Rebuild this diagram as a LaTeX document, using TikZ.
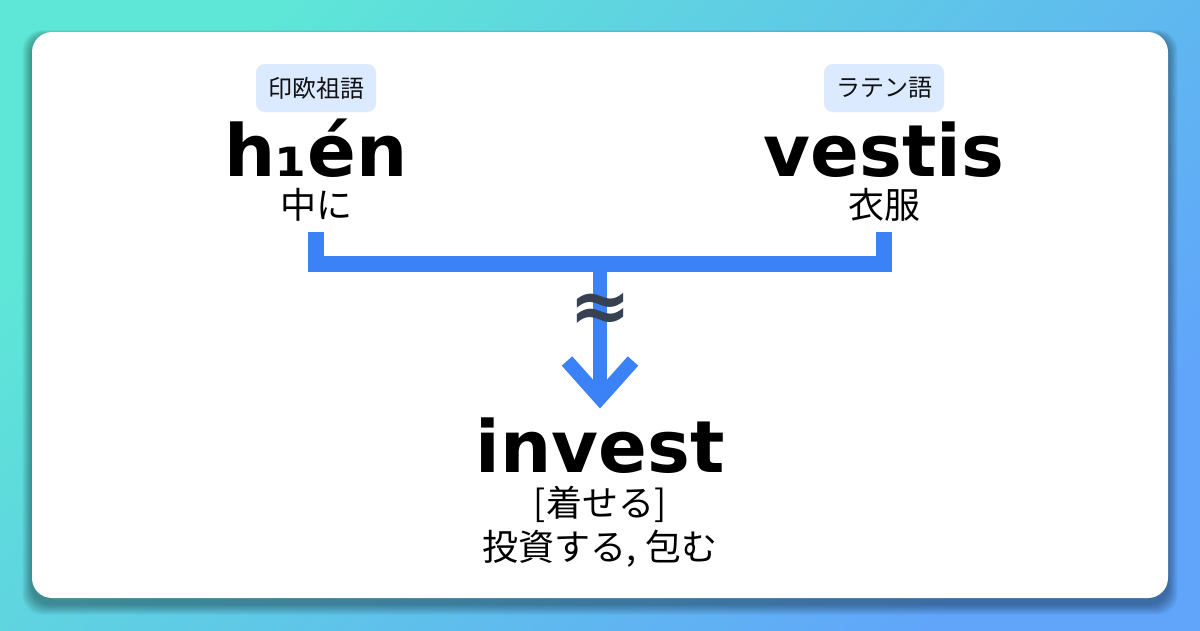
\documentclass[tikz,border=0pt]{standalone}
\usepackage{fontspec}
\setmainfont{DejaVu Sans}
\newfontfamily\jp{Noto Sans CJK JP}
\definecolor{bgA}{HTML}{5EE7D6}
\definecolor{bgB}{HTML}{60A5FA}
\definecolor{conncol}{HTML}{3B82F6}
\definecolor{pillcol}{HTML}{DBEAFE}
\definecolor{approxcol}{HTML}{374151}
\definecolor{txt}{HTML}{111111}
\tikzset{
  pill/.style={fill=pillcol, rounded corners=9pt, inner xsep=12pt, inner ysep=0pt, minimum height=48pt, text=txt, font=\jp\fontsize{24}{24}\selectfont},
  word/.style={anchor=base, inner sep=0pt, text depth=0pt, text=black, font=\bfseries\fontsize{72}{72}\selectfont},
  gloss/.style={inner sep=0pt, text height=28pt, text depth=1pt, text=black, font=\jp\fontsize{36}{36}\selectfont},
  conn/.style={draw=conncol, line width=16pt, line cap=butt, line join=miter},
  stem/.style={draw=conncol, line width=14pt, line cap=butt, line join=miter},
}
\begin{document}
\begin{tikzpicture}[x=1pt,y=-1pt]
\useasboundingbox (0,0) rectangle (1200,630);
\shade[shading=axis, top color=bgA, bottom color=bgB, shading angle=45] (0,0) rectangle (1200,630);
% shadow
\foreach \i in {1,...,12}{
  \fill[black, opacity=0.03, rounded corners=20pt] (32-\i*0.8,36-\i*0.5) rectangle (1168+\i*0.8,604+\i*0.9);
}
\fill[white, rounded corners=20pt] (32,32) rectangle (1168,598);

% left
\node[pill] (p1) at (316,88) {印欧祖語};
\node[word] (w1) at (316,176) {h₁én};
\node[gloss] (g1) at (316,205) {中に};
% right
\node[pill] (p2) at (884,88) {ラテン語};
\node[word] (w2) at (884,176) {vestis};
\node[gloss] (g2) at (884,205) {衣服};
% result
\node[word] (w3) at (600,472) {invest};
\node[gloss] (g3) at (600,503) {[着せる]};
\node[gloss] (g4) at (600,547) {投資する, 包む};

% connectors
\coordinate (L1) at (316,232);
\coordinate (L2) at (316,264);
\coordinate (R1) at (884,232);
\coordinate (R2) at (884,264);
\coordinate (M) at (600,264);
\coordinate (T) at (600,398);
\draw[conn] (L1) -- (L2) -- (R2) -- (R1);
\draw[stem] (M) -- (T);
\draw[stem] ([xshift=-33pt,yshift=37pt]T) -- (T) -- ([xshift=33pt,yshift=37pt]T);
\node[inner sep=0pt, text=approxcol, font=\bfseries\fontsize{74}{74}\selectfont] (ap) at (600,312) {≈};
\end{tikzpicture}
\end{document}
